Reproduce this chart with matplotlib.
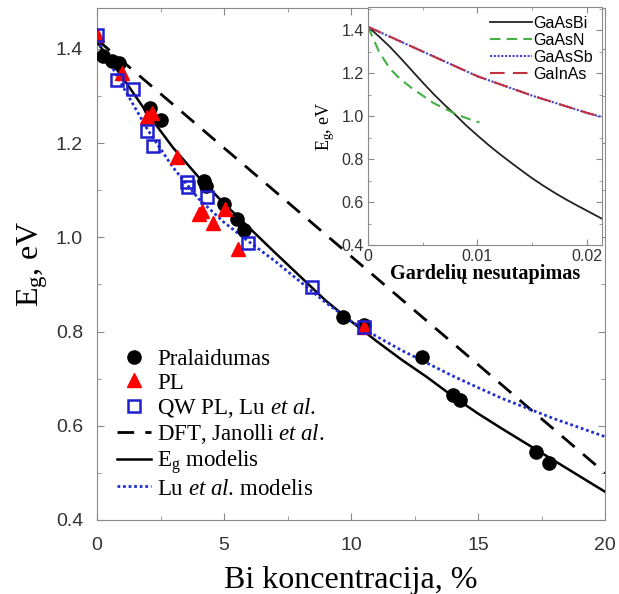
import matplotlib
matplotlib.use('Agg')
import matplotlib.pyplot as plt
from matplotlib.ticker import MultipleLocator

# ---------------- main chart data ----------------
pral_x = [0.25, 0.6, 0.85, 2.1, 2.5, 4.2, 4.3, 5.0, 5.5, 5.8, 9.7, 10.5, 12.8, 14.0, 14.3, 17.3, 17.8]
pral_y = [1.385, 1.375, 1.37, 1.275, 1.25, 1.12, 1.11, 1.07, 1.04, 1.015, 0.83, 0.815, 0.745, 0.665, 0.655, 0.545, 0.52]

pl_x = [0.0, 1.0, 1.95, 2.15, 3.15, 4.0, 4.15, 4.55, 5.05, 5.55, 10.5]
pl_y = [1.43, 1.35, 1.255, 1.265, 1.17, 1.05, 1.055, 1.03, 1.06, 0.975, 0.81]

qw_x = [0.0, 0.8, 1.4, 1.95, 2.2, 3.55, 3.6, 4.35, 5.95, 8.45, 10.5]
qw_y = [1.43, 1.335, 1.315, 1.225, 1.195, 1.118, 1.107, 1.086, 0.988, 0.895, 0.81]

dft_x = [0, 20]
dft_y = [1.42, 0.50]

model_x = [0, 1, 2, 3, 4, 5, 6, 7, 8, 9, 10, 11, 12, 13, 14, 15, 16, 17, 18, 19, 20]
eg_model_y = [1.415, 1.34, 1.262, 1.19, 1.128, 1.072, 1.02, 0.968, 0.917, 0.866, 0.822, 0.78, 0.74, 0.703, 0.663, 0.626, 0.592, 0.559, 0.526, 0.493, 0.46]
lu_model_y = [1.42, 1.322, 1.228, 1.148, 1.082, 1.032, 0.99, 0.95, 0.906, 0.862, 0.822, 0.79, 0.76, 0.733, 0.706, 0.681, 0.657, 0.636, 0.615, 0.596, 0.577]

# ---------------- inset data ----------------
bi_x = [0, 0.001, 0.002, 0.003, 0.004, 0.005, 0.006, 0.007, 0.008, 0.009, 0.010, 0.011, 0.012,
        0.013, 0.014, 0.015, 0.016, 0.017, 0.018, 0.019, 0.020, 0.021, 0.0214]
bi_y = [1.415, 1.37, 1.322, 1.268, 1.212, 1.156, 1.102, 1.052, 1.005, 0.955, 0.91, 0.866, 0.825,
        0.786, 0.748, 0.711, 0.677, 0.645, 0.615, 0.587, 0.56, 0.533, 0.522]
n_x = [0, 0.001, 0.002, 0.003, 0.004, 0.005, 0.006, 0.007, 0.008, 0.009, 0.0102]
n_y = [1.415, 1.30, 1.22, 1.17, 1.13, 1.095, 1.06, 1.035, 1.01, 0.99, 0.97]
sb_x = [0, 0.005, 0.010, 0.015, 0.020, 0.0214]
sb_y = [1.415, 1.30, 1.185, 1.095, 1.015, 0.995]
inas_y = [1.415, 1.30, 1.185, 1.095, 1.015, 0.995]

plt.rcParams['mathtext.fontset'] = 'custom'
plt.rcParams['mathtext.rm'] = 'Liberation Serif'
plt.rcParams['mathtext.it'] = 'Liberation Serif:italic'

SERIF = 'Liberation Serif'
SANS = 'Liberation Sans'
GRAY = '#8a8a8a'
TXT = '#333333'

fig = plt.figure(figsize=(6.19, 5.94), dpi=100)
ax = fig.add_axes([97 / 619, 1 - 520 / 594, 508 / 619, 512 / 594])

h_p, = ax.plot(pral_x, pral_y, 'o', color='black', ms=9.5, zorder=5, label='Pralaidumas')
h_pl, = ax.plot(pl_x, pl_y, '^', color='red', ms=10, zorder=6, label='PL')
h_qw, = ax.plot(qw_x, qw_y, 's', mfc='none', mec='#1f1fd0', mew=1.8, ms=8, zorder=7,
                label='QW PL, Lu $\\mathit{et\\ al.}$')
h_dft, = ax.plot(dft_x, dft_y, '--', color='black', lw=2.0, dashes=(6, 4), zorder=3,
                 label='DFT, Janolli $\\mathit{et\\ al.}$')
h_eg, = ax.plot(model_x, eg_model_y, '-', color='black', lw=1.8, zorder=3,
                label='E$_\\mathrm{g}$ modelis')
h_lu, = ax.plot(model_x, lu_model_y, ':', color='#2030d0', lw=2.0, dashes=(1, 1), zorder=4,
                label='Lu $\\mathit{et\\ al.}\\,$modelis')

ax.set_xlim(0, 20)
ax.set_ylim(0.4, 1.487)
ax.xaxis.set_major_locator(MultipleLocator(5))
ax.xaxis.set_minor_locator(MultipleLocator(2.5))
ax.yaxis.set_major_locator(MultipleLocator(0.2))
ax.yaxis.set_minor_locator(MultipleLocator(0.1))
ax.tick_params(which='both', direction='in', top=True, right=True, color=GRAY)
ax.tick_params(which='major', length=5, labelsize=14, labelcolor=TXT)
ax.tick_params(axis='x', which='major', pad=12)
ax.tick_params(axis='y', which='major', pad=10)
ax.tick_params(which='minor', length=3)
for lab in ax.get_xticklabels() + ax.get_yticklabels():
    lab.set_family(SANS)
ax.yaxis.set_major_formatter(matplotlib.ticker.FormatStrFormatter('%.1f'))
for s in ax.spines.values():
    s.set_color(GRAY)
ax.set_xlabel('Bi koncentracija, %', family=SERIF, fontsize=23, labelpad=9)
ax.set_ylabel('E$_\\mathrm{g}$, eV', family=SERIF, fontsize=23, labelpad=4)

leg = ax.legend(handles=[h_p, h_pl, h_qw, h_dft, h_eg, h_lu], loc='lower left',
                bbox_to_anchor=(0.04, 0.04), frameon=False,
                prop={'family': SERIF, 'size': 16.5}, handlelength=1.45,
                handletextpad=0.3, labelspacing=0.1, borderaxespad=0.0, borderpad=0.0)

# ---------------- inset ----------------
ins = fig.add_axes([368 / 619, 1 - 245 / 594, 234 / 619, 238 / 594])
ins.set_facecolor('white')
ins.plot(bi_x, bi_y, '-', color='#222222', lw=1.3, label='GaAsBi')
ins.plot(n_x, n_y, '--', color='#44b044', lw=1.5, dashes=(5, 3), label='GaAsN')
ins.plot(sb_x, sb_y, ':', color='#4040d0', lw=1.5, dashes=(1, 0.8), label='GaAsSb')
ins.plot(sb_x, inas_y, '--', color='#c03040', lw=1.5, dashes=(7, 4), label='GaInAs')
ins.set_xlim(0, 0.0214)
ins.set_ylim(0.4, 1.507)
ins.xaxis.set_major_locator(MultipleLocator(0.01))
ins.xaxis.set_minor_locator(MultipleLocator(0.005))
ins.yaxis.set_major_locator(MultipleLocator(0.2))
ins.yaxis.set_minor_locator(MultipleLocator(0.1))
ins.xaxis.set_major_formatter(matplotlib.ticker.FuncFormatter(lambda v, p: '0' if abs(v) < 1e-9 else ('%g' % round(v, 3))))
ins.yaxis.set_major_formatter(matplotlib.ticker.FormatStrFormatter('%.1f'))
ins.tick_params(which='both', direction='in', top=True, right=True, color=GRAY)
ins.tick_params(which='major', length=4, labelsize=11.5, labelcolor=TXT, pad=3)
ins.tick_params(which='minor', length=2.5)
for lab in ins.get_xticklabels() + ins.get_yticklabels():
    lab.set_family(SANS)
for s in ins.spines.values():
    s.set_color(GRAY)
ins.set_xlabel('Gardelių nesutapimas', family=SERIF, fontsize=14.5, fontweight='bold', labelpad=0)
ins.set_ylabel('E$_\\mathrm{g}$, eV', family=SERIF, fontsize=13, labelpad=3)
ins.legend(loc='upper right', frameon=False, prop={'family': SANS, 'size': 11.5},
           handlelength=2.6, handletextpad=0.1, labelspacing=0.12,
           borderaxespad=0.35, borderpad=0.2)

fig.savefig('out.png', dpi=100)
